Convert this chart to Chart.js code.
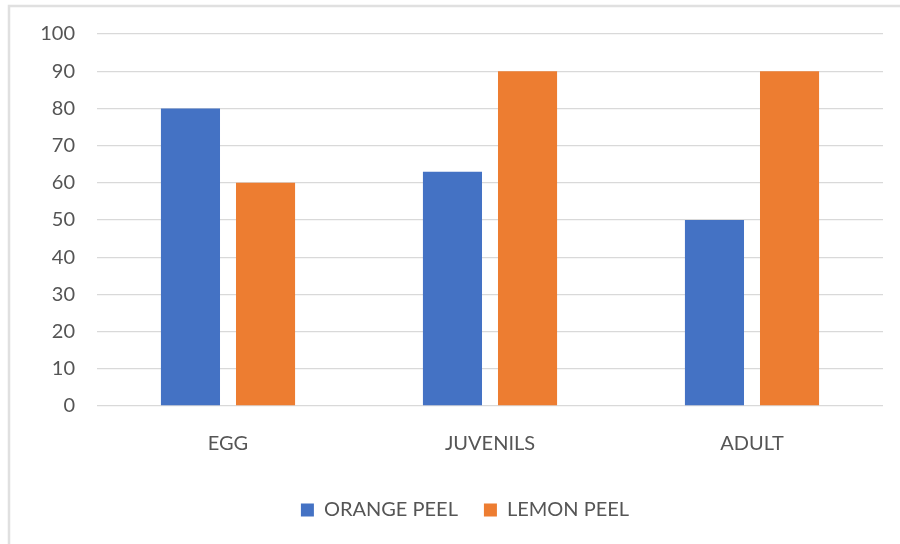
<!DOCTYPE html>
<html>
<head>
<meta charset="utf-8">
<script src="https://cdn.jsdelivr.net/npm/chart.js@4"></script>
<style>
  html, body { margin: 0; padding: 0; background: #ffffff; }
  #wrap { width: 900px; height: 544px; position: relative; }
</style>
</head>
<body>
<div id="wrap"><canvas id="chart"></canvas></div>
<script>
// Life stages and the two peel treatments
const stages = ['EGG', 'JUVENILS', 'ADULT'];
const orangePeel = [80, 63, 50];
const lemonPeel = [60, 90, 90];
const yTicks = [0, 10, 20, 30, 40, 50, 60, 70, 80, 90, 100];

const textColor = '#555555';
const fontFamily = 'Lato, "Open Sans", sans-serif';

// Thin frame along the left and top edges of the chart area
const framePlugin = {
  id: 'frame',
  beforeDraw(chart) {
    const ctx = chart.ctx;
    ctx.save();
    ctx.fillStyle = '#ffffff';
    ctx.fillRect(0, 0, chart.width, chart.height);
    ctx.strokeStyle = '#e0e0e0';
    ctx.lineWidth = 2.5;
    ctx.beginPath();
    ctx.moveTo(9, chart.height);
    ctx.lineTo(9, 6);
    ctx.lineTo(chart.width, 6);
    ctx.stroke();
    ctx.restore();
  }
};

// Nudge the legend a little to the right of the canvas centre
const legendShift = {
  id: 'legendShift',
  afterLayout(chart) {
    const lg = chart.legend;
    if (!lg) return;
    const dx = 465 - (lg.left + lg.right) / 2;
    lg.left += dx;
    lg.right += dx;
  }
};

new Chart(document.getElementById('chart'), {
  type: 'bar',
  data: {
    labels: stages,
    datasets: [
      { label: 'ORANGE PEEL', data: orangePeel, backgroundColor: '#4472C4' },
      { label: 'LEMON PEEL', data: lemonPeel, backgroundColor: '#ED7D31' }
    ]
  },
  options: {
    responsive: true,
    maintainAspectRatio: false,
    animation: false,
    layout: { padding: { left: 0, right: 17, top: 31, bottom: 14 } },
    datasets: {
      bar: { categoryPercentage: 0.573, barPercentage: 0.787 }
    },
    plugins: {
      tooltip: { enabled: false },
      legend: {
        position: 'bottom',
        labels: {
          boxWidth: 13,
          boxHeight: 13,
          padding: 26,
          color: textColor,
          font: { family: fontFamily, size: 20 }
        }
      }
    },
    scales: {
      x: {
        grid: { display: false },
        border: { display: false },
        ticks: {
          color: textColor,
          padding: 18,
          font: { family: fontFamily, size: 20 }
        },
        afterFit(scale) { scale.height = 68; }
      },
      y: {
        min: 0,
        max: 100,
        afterBuildTicks(scale) { scale.ticks = yTicks.map(v => ({ value: v })); },
        grid: { color: '#d9d9d9', lineWidth: 1.3, drawTicks: false },
        border: { display: false },
        ticks: {
          color: textColor,
          padding: 22,
          font: { family: fontFamily, size: 20 }
        },
        afterFit(scale) { scale.width = 97; }
      }
    }
  },
  plugins: [framePlugin, legendShift]
});
</script>
</body>
</html>
